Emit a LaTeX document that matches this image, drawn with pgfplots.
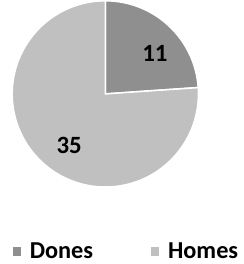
\documentclass[border=0pt]{standalone}
\usepackage{pgfplots}
\usepackage{pgfplotstable}
\pgfplotsset{compat=1.18}
\usepackage{fontspec}
\setmainfont{Carlito}
\definecolor{darkc}{HTML}{8F8F8F}
\definecolor{lightc}{HTML}{C0C0C0}
\pgfplotstableread{
label value
Dones 11
Homes 35
}\piedata
\begin{document}
\pgfplotstablegetelem{0}{value}\of\piedata \edef\va{\pgfplotsretval}
\pgfplotstablegetelem{1}{value}\of\piedata \edef\vb{\pgfplotsretval}
\pgfmathsetmacro\total{\va+\vb}
\pgfmathsetmacro\angA{90-360*\va/\total}
\begin{tikzpicture}
\begin{axis}[
  scale only axis, width=247pt, height=264pt,
  xmin=0, xmax=247, ymin=0, ymax=264,
  hide axis, clip=false,
  legend columns=2,
  legend style={at={(axis cs:127.5,16)}, anchor=center, draw=none, fill=none,
    font=\fontsize{23.5}{26}\selectfont\bfseries,
    /tikz/every odd column/.append style={column sep=7pt},
    /tikz/every even column/.append style={column sep=54pt}},
  legend image code/.code={\fill[#1] (0pt,-3.5pt) rectangle (7pt,3.5pt);},
]
\fill[darkc, draw=white, line width=1.5pt] (axis cs:107,168) -- ++(90:90pt) arc[start angle=90, end angle=\angA, radius=90pt] -- cycle;
\fill[lightc, draw=white, line width=1.5pt] (axis cs:107,168) -- ++(\angA:90pt) arc[start angle=\angA, end angle=-270, radius=90pt] -- cycle;
\node[font=\fontsize{24}{26}\selectfont\bfseries] at (axis cs:155,207) {\va};
\node[font=\fontsize{24}{26}\selectfont\bfseries] at (axis cs:72,118) {\vb};
\addlegendimage{darkc}
\addlegendentry{Dones}
\addlegendimage{lightc}
\addlegendentry{Homes}
\end{axis}
\end{tikzpicture}
\end{document}
